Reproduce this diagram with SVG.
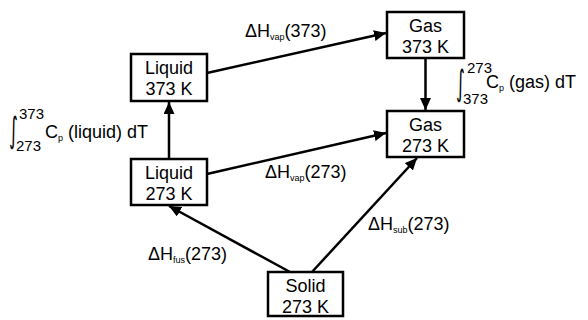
<svg xmlns="http://www.w3.org/2000/svg" width="588" height="320" viewBox="0 0 588 320">
<style>
text{font-family:"Liberation Sans",Arial,sans-serif;fill:#000}
.n{font-size:18px;text-anchor:middle}
.l{font-size:18px}
.s{font-size:9px}
.lim{font-size:15px}
.box{fill:#fff;stroke:#000;stroke-width:2.5}
.c{stroke:#000;stroke-width:2.5;fill:none;marker-end:url(#ah)}
.int{font-family:"DejaVu Sans",sans-serif;font-size:24px}
</style>
<defs>
<marker id="ah" markerUnits="userSpaceOnUse" markerWidth="12" markerHeight="11" refX="12" refY="5.5" orient="auto">
<path d="M0,0 L12,5.5 L0,11 Z" fill="#000"/>
</marker>
</defs>
<g id="connectors">
<line class="c" x1="207" y1="73" x2="386" y2="33"/>
<line class="c" x1="425.5" y1="58" x2="425.5" y2="110"/>
<line class="c" x1="169" y1="159" x2="169" y2="102"/>
<line class="c" x1="207" y1="174" x2="386" y2="133"/>
<line class="c" x1="290" y1="272" x2="169" y2="206"/>
<line class="c" x1="312" y1="272" x2="417" y2="158"/>
</g>
<g id="liquid373">
<rect class="box" x="131" y="54" width="76" height="47"/>
<text class="n" x="169" y="74">Liquid</text>
<text class="n" x="169" y="95">373 K</text>
</g>
<g id="gas373">
<rect class="box" x="387" y="12" width="77" height="46"/>
<text class="n" x="425.5" y="32">Gas</text>
<text class="n" x="425.5" y="53">373 K</text>
</g>
<g id="gas273">
<rect class="box" x="387" y="111" width="77" height="46"/>
<text class="n" x="425.5" y="131">Gas</text>
<text class="n" x="425.5" y="152">273 K</text>
</g>
<g id="liquid273">
<rect class="box" x="131" y="159" width="76" height="46"/>
<text class="n" x="169" y="179">Liquid</text>
<text class="n" x="169" y="200">273 K</text>
</g>
<g id="solid273">
<rect class="box" x="268" y="272" width="75" height="44"/>
<text class="n" x="305.5" y="292">Solid</text>
<text class="n" x="305.5" y="313">273 K</text>
</g>
<g id="labels">
<text class="l" x="245" y="37">ΔH<tspan class="s" dy="3">vap</tspan><tspan dy="-3">(373)</tspan></text>
<text class="l" x="265" y="178">ΔH<tspan class="s" dy="3">vap</tspan><tspan dy="-3">(273)</tspan></text>
<text class="l" x="148" y="260">ΔH<tspan class="s" dy="3">fus</tspan><tspan dy="-3">(273)</tspan></text>
<text class="l" x="368" y="230">ΔH<tspan class="s" dy="3">sub</tspan><tspan dy="-3">(273)</tspan></text>
<text class="int" transform="translate(9,142) scale(0.7,1.45)">∫</text>
<text class="lim" x="19" y="119">373</text>
<text class="lim" x="16" y="151">273</text>
<text class="l" x="45" y="138">C<tspan class="s" dy="3">p</tspan><tspan dy="-3"> (liquid) dT</tspan></text>
<text class="int" transform="translate(456,95) scale(0.7,1.45)">∫</text>
<text class="lim" x="467" y="73">273</text>
<text class="lim" x="463" y="104">373</text>
<text class="l" x="486" y="88">C<tspan class="s" dy="3">p</tspan><tspan dy="-3"> (gas) dT</tspan></text>
</g>
</svg>
